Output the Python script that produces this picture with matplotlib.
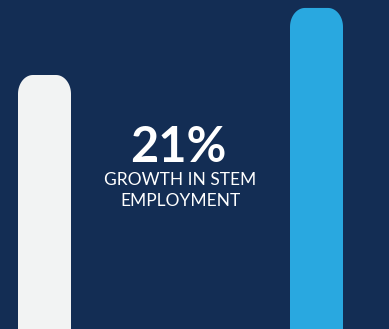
import matplotlib
matplotlib.use("Agg")
import matplotlib.pyplot as plt
import numpy as np
from matplotlib.patches import Polygon

# employment index, before and after growth
categories = ["Before", "After"]
values = [100, 126.4]
bar_colors = ["#f2f3f3", "#29a8e0"]
headline = "21%"
caption = "GROWTH IN STEM\nEMPLOYMENT"

bg = "#132d54"
W, H = 389, 329

fig = plt.figure(figsize=(W / 100, H / 100), dpi=100)
fig.patch.set_facecolor(bg)
ax = fig.add_axes([0, 0, 1, 1])
ax.set_facecolor(bg)

# x: one unit = 272 px between bar centres; y: one unit = 2.54 px
px_x, px_y = 272, 2.54
ax.set_xlim(-44.5 / px_x, 1 + (W - 316.5) / px_x)
ax.set_ylim(0, H / px_y)
ax.axis("off")

bar_w = 53 / px_x
rx, ry = 15 / px_x, 19 / px_y   # corner radii, converted to data units


def rounded_bar(x, top, w):
    t = np.linspace(0, np.pi / 2, 30)
    left, right = x - w / 2, x + w / 2
    # top-right corner then top-left corner
    tr = np.column_stack([right - rx + rx * np.cos(t), top - ry + ry * np.sin(t)])
    tl = np.column_stack([left + rx - rx * np.sin(t), top - ry + ry * np.cos(t)])
    return np.vstack([[right, 0], tr, tl, [left, 0]])


for i, (v, c) in enumerate(zip(values, bar_colors)):
    ax.add_patch(Polygon(rounded_bar(i, v, bar_w), closed=True,
                         facecolor=c, edgecolor="none"))

fig.text(178.5 / W, 1 - 162 / H, headline, ha="center", va="baseline",
         color="white", fontsize=35, fontfamily="Lato", fontweight="bold")
lines = caption.split("\n")
fig.text(180 / W, 1 - 185 / H, lines[0], ha="center", va="baseline",
         color="white", fontsize=12.5, fontfamily="Lato")
fig.text(180 / W, 1 - 205.5 / H, lines[1], ha="center", va="baseline",
         color="white", fontsize=12.5, fontfamily="Lato")

fig.savefig("out.png", dpi=100, facecolor=bg)
